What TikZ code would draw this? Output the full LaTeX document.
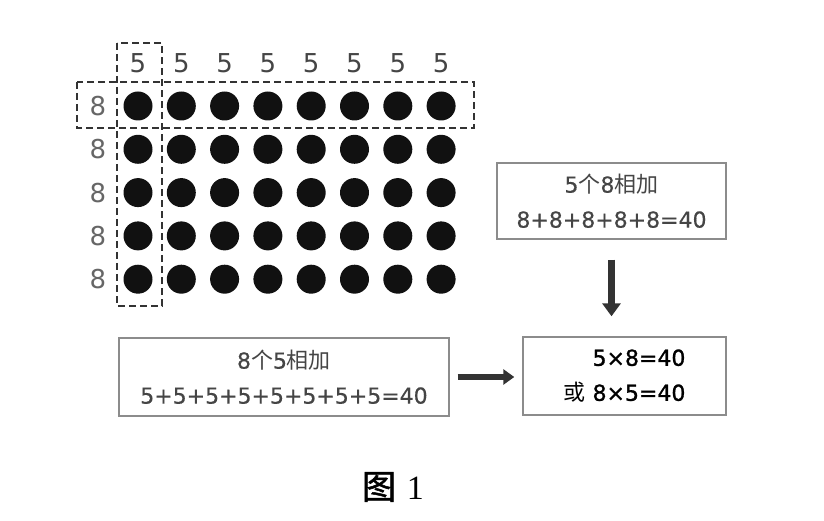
\documentclass[tikz,border=0pt]{standalone}
\usepackage{fontspec}
\setmainfont{DejaVu Sans}
\newfontfamily\cjk{Noto Sans CJK SC}
\newfontfamily\cjkheavy[FakeBold=1.5]{Noto Sans CJK SC}
\newfontfamily\medium[FakeBold=0.5]{DejaVu Sans}
\newfontfamily\heavy[FakeBold=1.2]{DejaVu Sans}
\newfontfamily\capserif{Liberation Serif}
\usetikzlibrary{arrows.meta}
\definecolor{textgray}{HTML}{454545}
\definecolor{lightgray}{HTML}{666666}
\definecolor{framegray}{HTML}{8C8C8C}
\definecolor{dashgray}{HTML}{333333}
\definecolor{dotblack}{HTML}{111111}
\newcommand{\zh}[1]{{\cjk #1}}

\begin{document}
\begin{tikzpicture}[x=1pt, y=-1pt,
	num/.style={text=textgray, font=\fontsize{26}{30}\selectfont, inner sep=0pt},
	sumbox/.style={draw=framegray, line width=1.4pt, text=textgray, align=center, font=\fontsize{22}{35}\medium, inner sep=0pt},
	dashbox/.style={draw=dashgray, line width=1.8pt, dash pattern=on 7pt off 4pt},
	fatarrow/.style={draw=dashgray, line width=7pt, -{Triangle[width=18pt,length=13pt]}}]
		\useasboundingbox (0,0) rectangle (824,521);
		
		% dots and their labels
		\foreach \c in {0,...,7}
			\foreach \r in {0,...,4}
				\fill [dotblack] (138+43.3*\c, 106+43.3*\r) circle (14.5);
		\foreach \c in {0,...,7}
			\node [num] (col\c) at (138+43.3*\c, 63) {5};
		\foreach \r in {0,...,4}
			\node [num, text=lightgray] (row\r) at (98, 106+43.3*\r) {8};
		
		\draw [dashbox] (117,43) rectangle (162,306);
		\draw [dashbox] (77,82) rectangle (474,128);
		
		% sums
		\node [sumbox, minimum width=229pt, minimum height=76pt] (fives) at (611.5,201) {5\zh{个}8\zh{相加}\\8+8+8+8+8=40};
		\node [sumbox, minimum width=330pt, minimum height=78pt] (eights) at (284,377) {8\zh{个}5\zh{相加}\\5+5+5+5+5+5+5+5=40};
		\node [sumbox, text=black, align=right, font=\fontsize{22}{35}\heavy, minimum width=203pt, minimum height=78pt] (prod) at (624.5,376) {5×8=40\\\zh{或} 8×5=40};
		
		\draw [fatarrow, shorten <=20pt, shorten >=20pt] (fives.south) -- (fives.south |- prod.north);
		\draw [fatarrow, line width=6pt, -{Triangle[width=15pt,length=11pt]}, shorten <=8pt, shorten >=8pt] (eights.east) -- (eights.east -| prod.west);
		
		\node [font=\fontsize{34}{40}\selectfont] (cap) at (393,487) {{\cjkheavy 图} {\capserif 1}};
		
\end{tikzpicture}
\end{document}
